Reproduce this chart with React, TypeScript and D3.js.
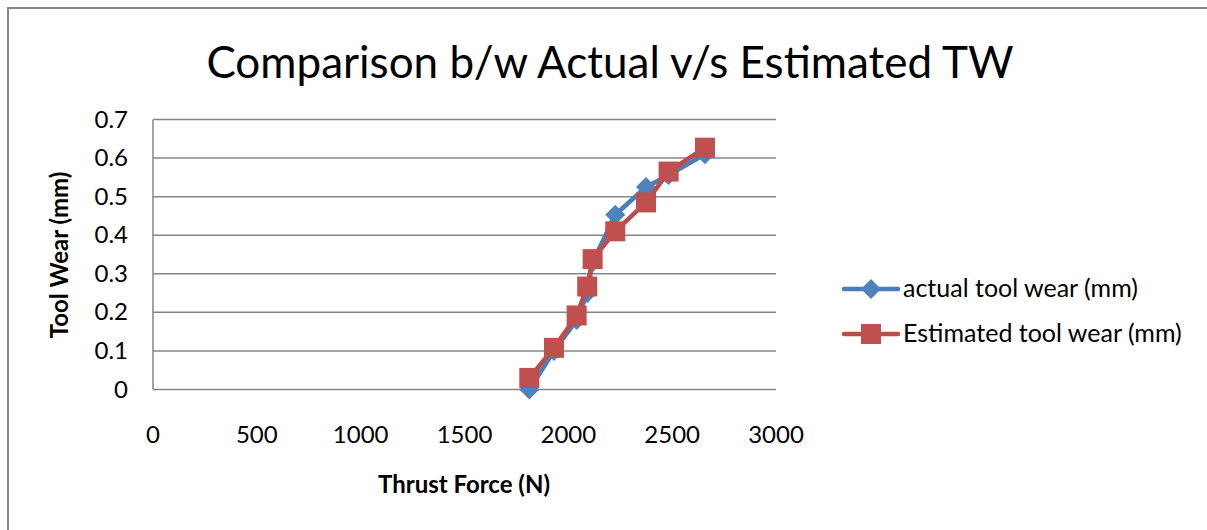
import React from "react";
import * as d3 from "d3";

const thrustForce = [1812, 1931, 2040, 2091, 2117, 2226, 2374, 2483, 2658];
const actualWear = [0.0, 0.1, 0.18, 0.25, 0.33, 0.453, 0.525, 0.556, 0.61];
const estimatedWear = [0.03, 0.108, 0.192, 0.267, 0.338, 0.41, 0.485, 0.565, 0.627];
const xTicks = [0, 500, 1000, 1500, 2000, 2500, 3000];
const yTicks = [0, 0.1, 0.2, 0.3, 0.4, 0.5, 0.6, 0.7];
const seriesNames = ["actual tool wear (mm)", "Estimated tool wear (mm)"];
const title = "Comparison b/w Actual v/s Estimated TW";

const FONT = "Lato, 'Open Sans', sans-serif";
const BLUE_LINE = "#4A7EBB";
const BLUE_FILL = "#4F81BD";
const RED_LINE = "#BE4B48";
const RED_FILL = "#C0504D";
const GRID = "#868686";

export default function App() {
  const W = 1207, H = 530;
  const x = d3.scaleLinear().domain([0, 3000]).range([153, 776]);
  const y = d3.scaleLinear().domain([0, 0.7]).range([389.5, 119.5]);
  const line = d3.line<[number, number]>().x(d => x(d[0])).y(d => y(d[1]));
  const actualPts = thrustForce.map((f, i) => [f, actualWear[i]] as [number, number]);
  const estPts = thrustForce.map((f, i) => [f, estimatedWear[i]] as [number, number]);
  const diamond = (cx: number, cy: number, r: number) =>
    `M${cx},${cy - r}L${cx + r},${cy}L${cx},${cy + r}L${cx - r},${cy}Z`;

  return (
    <svg width={W} height={H} style={{ position: "absolute", left: 0, top: 0, background: "#fff" }}>
      <rect x={0} y={0} width={W} height={H} fill="#fff" />
      <path d={`M8,${H + 5}L8,8L${W + 5},8`} fill="none" stroke="#878787" strokeWidth={2} />
      <text x={610} y={78} textAnchor="middle" fontFamily={FONT} fontSize={44} fill="#000">{title}</text>
      {/* grid */}
      {yTicks.map(t => (
        <line key={"g" + t} x1={x(0)} x2={x(3000)} y1={y(t)} y2={y(t)} stroke={GRID} strokeWidth={1.5} />
      ))}
      <line x1={x(0)} x2={x(0)} y1={y(0)} y2={y(0.7)} stroke={GRID} strokeWidth={1.5} />
      {yTicks.map(t => (
        <text key={"yt" + t} x={128} y={y(t) + 8} textAnchor="end" fontFamily={FONT} fontSize={24} fill="#000">{t === 0 ? "0" : t.toFixed(1)}</text>
      ))}
      {xTicks.map(t => (
        <text key={"xt" + t} x={x(t)} y={443} textAnchor="middle" fontFamily={FONT} fontSize={24} fill="#000">{t}</text>
      ))}
      <text x={464} y={493} textAnchor="middle" fontFamily={FONT} fontSize={24} fontWeight="bold" fill="#000">Thrust Force (N)</text>
      <text transform="translate(68,255) rotate(-90)" textAnchor="middle" fontFamily={FONT} fontSize={24} fontWeight="bold" fill="#000">Tool Wear (mm)</text>
      {/* series */}
      <path d={line(actualPts) || ""} fill="none" stroke={BLUE_LINE} strokeWidth={4.5} strokeLinejoin="round" />
      {actualPts.map((p, i) => (
        <path key={"a" + i} d={diamond(x(p[0]), y(p[1]), 10)} fill={BLUE_FILL} />
      ))}
      <path d={line(estPts) || ""} fill="none" stroke={RED_LINE} strokeWidth={4.5} strokeLinejoin="round" />
      {estPts.map((p, i) => (
        <rect key={"e" + i} x={x(p[0]) - 10} y={y(p[1]) - 10} width={20} height={20} fill={RED_FILL} />
      ))}
      {/* legend */}
      <line x1={844} x2={898} y1={289} y2={289} stroke={BLUE_LINE} strokeWidth={4.5} strokeLinecap="round" />
      <path d={diamond(871, 289, 10)} fill={BLUE_FILL} />
      <text x={903} y={297} fontFamily={FONT} fontSize={25} fill="#000">{seriesNames[0]}</text>
      <line x1={844} x2={898} y1={334} y2={334} stroke={RED_LINE} strokeWidth={4.5} strokeLinecap="round" />
      <rect x={861} y={324} width={20} height={20} fill={RED_FILL} />
      <text x={903} y={342} fontFamily={FONT} fontSize={25} fill="#000">{seriesNames[1]}</text>
    </svg>
  );
}
